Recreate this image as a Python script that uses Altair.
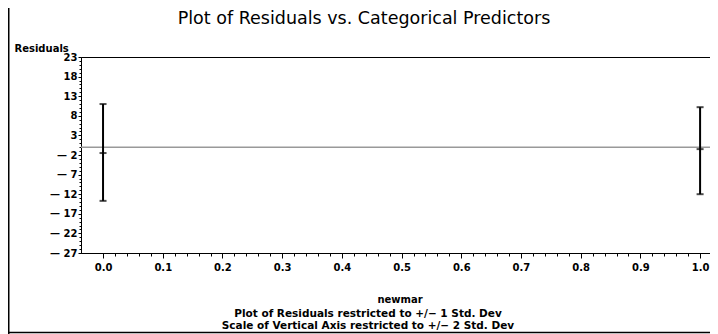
import altair as alt
import pandas as pd

# ---- data ----
categories = [0.0, 1.0]
resid_mean = [-1.5, -0.5]
resid_upper = [11.0, 10.2]
resid_lower = [-13.7, -12.0]
ref_value = [0]

x_tick_values = [round(i * 0.02, 2) for i in range(51)]
y_tick_values = list(range(-27, 24))

title_text = "Plot of Residuals vs. Categorical Predictors"
x_title = "newmar"
y_title = "Residuals"
footnotes = [
    "Plot of Residuals restricted to +/\u2212 1 Std. Dev",
    "Scale of Vertical Axis restricted to +/\u2212 2 Std. Dev",
]

PW, PH = 637, 196
SMALL_FONT = "DejaVu Sans"
LAB_SIZE = 10

bars = pd.DataFrame({"x": categories, "mean": resid_mean,
                     "upper": resid_upper, "lower": resid_lower})
caps = pd.DataFrame({
    "x": categories * 3,
    "y": resid_lower + resid_mean + resid_upper,
})
ref = pd.DataFrame({"y": ref_value})

x_major = "abs(datum.value * 10 - round(datum.value * 10)) < 0.000001"
y_major = "(datum.value + 27) % 5 == 0"

x_scale = alt.Scale(domain=[-0.0369, 1.030], nice=False, zero=False)
y_scale = alt.Scale(domain=[-27, 23], nice=False, zero=False)

x_axis = alt.Axis(
    values=x_tick_values,
    labelExpr=f"{x_major} ? format(datum.value, '.1f') : ''",
    labelOverlap=False, labelBound=False, labelFlush=False,
    tickSize={"condition": {"test": x_major, "value": 5}, "value": 3},
    labelPadding=4,
    labelFont=SMALL_FONT, labelFontSize=LAB_SIZE, labelFontWeight="bold",
    labelColor="black", tickColor="black", domainColor="black",
    title=x_title, titleFont=SMALL_FONT, titleFontSize=LAB_SIZE,
    titleFontWeight="bold", titleColor="black",
    titleY=46, titleBaseline="middle", grid=False,
)
y_axis = alt.Axis(
    values=y_tick_values,
    labelExpr=f"{y_major} ? (datum.value < 0 ? '\u2014 ' + abs(datum.value) : '' + datum.value) : ''",
    labelOverlap=False, labelBound=False, labelFlush=False,
    tickSize={"condition": {"test": y_major, "value": 3}, "value": 2},
    labelPadding=1,
    labelFont=SMALL_FONT, labelFontSize=LAB_SIZE, labelFontWeight="bold",
    labelColor="black", tickColor="black", domainColor="black",
    title=y_title, titleFont=SMALL_FONT, titleFontSize=LAB_SIZE,
    titleFontWeight="bold", titleColor="black",
    titleAngle=0, titleAlign="left", titleBaseline="middle",
    titleX=-67, titleY=-9, grid=False,
)

ref_line = alt.Chart(ref).mark_rule(color="#999999", strokeWidth=1.5).encode(
    y=alt.Y("y:Q", scale=y_scale, axis=y_axis)
)

err = alt.Chart(bars).mark_rule(color="black", strokeWidth=2).encode(
    x=alt.X("x:Q", scale=x_scale, axis=x_axis),
    y=alt.Y("lower:Q", scale=y_scale, axis=y_axis),
    y2="upper:Q",
)

cap = alt.Chart(caps).mark_tick(orient="horizontal", size=7, thickness=2,
                                color="black").encode(
    x=alt.X("x:Q", scale=x_scale, axis=x_axis),
    y=alt.Y("y:Q", scale=y_scale, axis=y_axis),
)

one = pd.DataFrame({"a": [0]})
frame_left = alt.Chart(one).mark_rule(color="black", strokeWidth=1.5).encode(
    x=alt.value(-72.25), y=alt.value(-49), y2=alt.value(277)
)
frame_bottom = alt.Chart(one).mark_rule(color="black", strokeWidth=1.5).encode(
    x=alt.value(-73), x2=alt.value(PW), y=alt.value(275.5)
)

title_mark = alt.Chart(pd.DataFrame({"t": [title_text]})).mark_text(
    font="DejaVu Sans", fontSize=17.5, color="black", align="center",
    baseline="alphabetic"
).encode(text="t:N", x=alt.value(283), y=alt.value(-33))

fn_style = dict(font=SMALL_FONT, fontSize=10.5, fontWeight="bold",
                color="black", align="center", baseline="middle")
fn1 = alt.Chart(pd.DataFrame({"t": [footnotes[0]]})).mark_text(**fn_style).encode(
    text="t:N", x=alt.value(287), y=alt.value(257))
fn2 = alt.Chart(pd.DataFrame({"t": [footnotes[1]]})).mark_text(**fn_style).encode(
    text="t:N", x=alt.value(287), y=alt.value(269))

chart = alt.layer(
    ref_line, err, cap, frame_left, frame_bottom, title_mark, fn1, fn2
).properties(
    width=PW, height=PH,
    autosize=alt.AutoSizeParams(type="none"),
    padding={"left": 73, "top": 49, "right": -8, "bottom": 81},
    background="white",
).configure_view(stroke="black", strokeWidth=1)

chart.save("out.html", embed_options={"renderer": "svg", "actions": False})
